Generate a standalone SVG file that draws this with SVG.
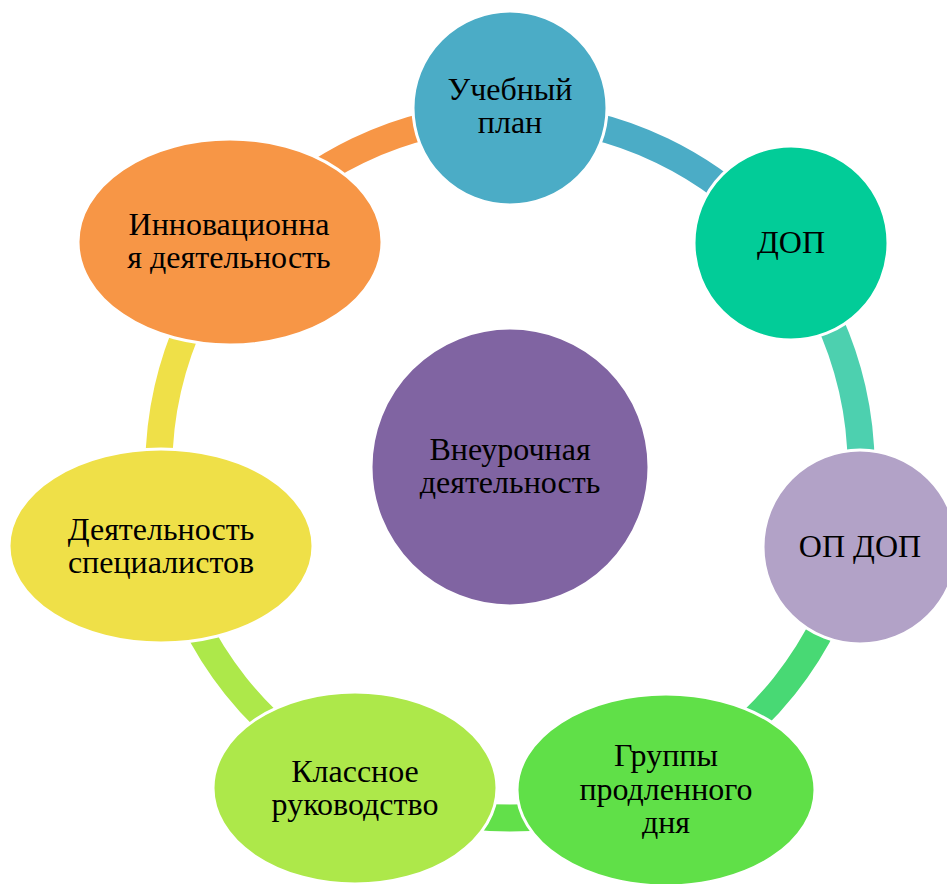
<svg xmlns="http://www.w3.org/2000/svg" width="947" height="884" viewBox="0 0 947 884">
<style>
.arc{fill:none;stroke-width:27;stroke-linecap:butt}
.node{stroke:#fff;stroke-width:3}
.t{font-family:"Liberation Serif","Times New Roman",serif;font-size:32px;fill:#000;text-anchor:middle}
</style>
<rect width="947" height="884" fill="#fff"/>
<g id="connectors">
<path class="arc" stroke="#4BACC6" d="M510,116 A351,351 0 0 1 784.4,248.1"/>
<path class="arc" stroke="#4DD0AF" d="M784.4,248.1 A351,351 0 0 1 852.2,545.1"/>
<path class="arc" stroke="#48D974" d="M852.2,545.1 A351,351 0 0 1 662.3,783.3"/>
<path class="arc" stroke="#62E04A" d="M662.3,783.3 A351,351 0 0 1 357.7,783.3"/>
<path class="arc" stroke="#ADE84A" d="M357.7,783.3 A351,351 0 0 1 167.8,545.1"/>
<path class="arc" stroke="#EFE048" d="M167.8,545.1 A351,351 0 0 1 235.6,248.1"/>
<path class="arc" stroke="#F79646" d="M235.6,248.1 A351,351 0 0 1 510,116"/>
</g>
<g id="center">
<circle class="node" cx="510" cy="467" r="139" fill="#8064A2"/>
<text class="t" x="510" y="460">Внеурочная</text>
<text class="t" x="510" y="493">деятельность</text>
</g>
<g id="uchebny">
<circle class="node" cx="510" cy="108" r="97" fill="#4BACC6"/>
<text class="t" x="510" y="100">Учебный</text>
<text class="t" x="510" y="133">план</text>
</g>
<g id="dop">
<circle class="node" cx="791" cy="243" r="97" fill="#02CC98"/>
<text class="t" x="791" y="253">ДОП</text>
</g>
<g id="opdop">
<circle class="node" cx="860" cy="547" r="97" fill="#B2A2C7"/>
<text class="t" x="860" y="557">ОП ДОП</text>
</g>
<g id="gruppy">
<ellipse class="node" cx="666" cy="790" rx="149" ry="96" fill="#60E048"/>
<text class="t" x="666" y="766">Группы</text>
<text class="t" x="666" y="800">продленного</text>
<text class="t" x="666" y="833">дня</text>
</g>
<g id="klassnoe">
<ellipse class="node" cx="355" cy="788" rx="142" ry="96" fill="#ADE84A"/>
<text class="t" x="355" y="782">Классное</text>
<text class="t" x="355" y="815">руководство</text>
</g>
<g id="specialisty">
<ellipse class="node" cx="161" cy="546" rx="152" ry="97" fill="#EFE048"/>
<text class="t" x="161" y="540">Деятельность</text>
<text class="t" x="161" y="573">специалистов</text>
</g>
<g id="innov">
<ellipse class="node" cx="230" cy="242" rx="152" ry="103" fill="#F79646"/>
<text class="t" x="229" y="235">Инновационна</text>
<text class="t" x="229" y="268">я деятельность</text>
</g>
</svg>
